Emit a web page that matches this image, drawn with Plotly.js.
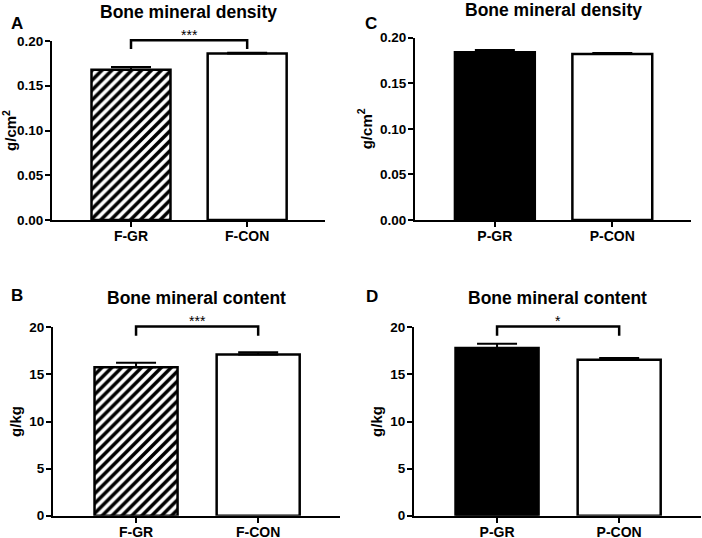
<!DOCTYPE html>
<html>
<head>
<meta charset="utf-8">
<script src="https://cdn.plot.ly/plotly-3.0.1.min.js"></script>
<style>
  body { margin: 0; background: #fff; }
  #chart { width: 702px; height: 538px; }
</style>
</head>
<body>
<div id="chart"></div>
<script>
// Groups and values
const femaleGroups = ['F-GR', 'F-CON'];
const pigGroups = ['P-GR', 'P-CON'];

const densityFemale = [0.168, 0.186];
const densityFemaleErr = [0.003, 0.001];
const contentFemale = [15.75, 17.1];
const contentFemaleErr = [0.5, 0.25];

const densityPig = [0.184, 0.182];
const densityPigErr = [0.0025, 0.0012];
const contentPig = [17.8, 16.55];
const contentPigErr = [0.45, 0.2];

const densityTicks = [0, 0.05, 0.1, 0.15, 0.2];
const contentTicks = [0, 5, 10, 15, 20];

const panelLetters = ['A', 'B', 'C', 'D'];
const panelTitles = ['Bone mineral density', 'Bone mineral content', 'Bone mineral density', 'Bone mineral content'];
const significance = ['***', '***', '', '*'];

const W = 702;
const H = 538;
const FONT = 'Liberation Sans, Arial, sans-serif';

// pixel -> paper helpers
function px(x) { return x / W; }
function py(y) { return 1 - y / H; }

// bar traces for one panel
function panelBars(groups, values, errs, axis, fills) {
  return groups.map((g, i) => ({
    type: 'bar',
    x: [i],
    y: [values[i]],
    width: 0.68,
    xaxis: 'x' + axis,
    yaxis: 'y' + axis,
    showlegend: false,
    hoverinfo: 'skip',
    marker: Object.assign({ line: { color: '#000', width: 2.5 } }, fills[i]),
    error_y: {
      type: 'data',
      symmetric: false,
      array: [errs[i]],
      arrayminus: [0],
      color: '#000',
      thickness: 2,
      width: 20,
    },
  }));
}

const hatched = {
  color: '#fff',
  pattern: { shape: '/', fgcolor: '#000', bgcolor: '#fff', size: 7, solidity: 0.5, fillmode: 'replace' },
};
const white = { color: '#fff' };
const black = { color: '#000' };

var data = []
  .concat(panelBars(femaleGroups, densityFemale, densityFemaleErr, '', [hatched, white]))
  .concat(panelBars(femaleGroups, contentFemale, contentFemaleErr, '2', [hatched, white]))
  .concat(panelBars(pigGroups, densityPig, densityPigErr, '3', [black, white]))
  .concat(panelBars(pigGroups, contentPig, contentPigErr, '4', [black, white]));

// significance brackets sit at the top of each y axis, between the two bars
const axisIds = ['', '2', '3', '4'];
var annotations = [];
var shapes = [];

significance.forEach((sig, i) => {
  if (!sig) return;
  const id = axisIds[i];
  shapes.push({
    type: 'path',
    xref: 'x' + id,
    yref: 'y' + id + ' domain',
    path: 'M 0,0.955 L 0,1.004 L 1,1.004 L 1,0.955',
    line: { color: '#000', width: 2.5 },
  });
  annotations.push({
    text: sig,
    x: 0.5,
    y: 1.0,
    xref: 'x' + id,
    yref: 'y' + id + ' domain',
    yanchor: 'bottom',
    yshift: -4,
    showarrow: false,
    font: { family: FONT, size: 14, color: '#000' },
  });
});

// panel letters and titles
const letterPos = [[9, 12], [9, 295], [371, 12], [372, 296]];
const titleY = [12, 298, 10, 298];
const letterAxis = ['x', 'x2', 'x3', 'x4'];
panelLetters.forEach((l, i) => {
  annotations.push({
    text: '<b>' + l + '</b>',
    x: px(letterPos[i][0]),
    y: py(letterPos[i][1]),
    xref: 'paper',
    yref: 'paper',
    showarrow: false,
    font: { family: FONT, size: 17, color: '#000' },
  });
  annotations.push({
    text: '<b>' + panelTitles[i] + '</b>',
    x: 0.5,
    y: py(titleY[i]),
    xref: letterAxis[i] + ' domain',
    yref: 'paper',
    yanchor: 'middle',
    showarrow: false,
    font: { family: FONT, size: 17.5, color: '#000' },
  });
});

function xAxis(groups, domain, anchor) {
  return {
    domain: domain,
    anchor: anchor,
    range: [-0.68, 1.67],
    tickvals: [0, 1],
    ticktext: groups,
    showline: true,
    linecolor: '#000',
    linewidth: 2,
    ticks: 'outside',
    ticklen: 5,
    tickwidth: 2,
    tickcolor: '#000',
    ticklabelstandoff: -3,
    showgrid: false,
    zeroline: false,
    tickfont: { family: FONT, size: 14, color: '#000', weight: 'bold' },
  };
}

function yAxis(ticks, fmt, title, domain, anchor) {
  return {
    domain: domain,
    anchor: anchor,
    range: [0, ticks[ticks.length - 1]],
    tickvals: ticks,
    tickformat: fmt,
    showline: true,
    linecolor: '#000',
    linewidth: 2,
    ticks: 'outside',
    ticklen: 5,
    tickwidth: 2,
    tickcolor: '#000',
    ticklabelstandoff: -1,
    showgrid: false,
    zeroline: false,
    tickfont: { family: FONT, size: 13.5, color: '#000', weight: 'bold' },
    title: {
      text: title,
      standoff: 4,
      font: { family: FONT, size: 15, color: '#000', weight: 'bold' },
    },
  };
}

const topRow = [py(220), py(41)];
const topRowC = [py(220), py(37.7)];
const bottomRow = [py(515.7), py(327.3)];

var layout = {
  width: W,
  height: H,
  margin: { t: 0, b: 0, l: 0, r: 0 },
  paper_bgcolor: '#fff',
  plot_bgcolor: 'rgba(0,0,0,0)',
  font: { family: FONT, color: '#000' },
  xaxis: xAxis(femaleGroups, [px(52), px(325)], 'y'),
  yaxis: yAxis(densityTicks, '.2f', 'g/cm<sup>2</sup>', topRow, 'x'),
  xaxis2: xAxis(femaleGroups, [px(53), px(340)], 'y2'),
  yaxis2: yAxis(contentTicks, 'd', 'g/kg', bottomRow, 'x2'),
  xaxis3: xAxis(pigGroups, [px(415), px(691)], 'y3'),
  yaxis3: yAxis(densityTicks, '.2f', 'g/cm<sup>2</sup>', topRowC, 'x3'),
  xaxis4: xAxis(pigGroups, [px(414), px(701)], 'y4'),
  yaxis4: yAxis(contentTicks, 'd', 'g/kg', bottomRow, 'x4'),
  annotations: annotations,
  shapes: shapes,
  bargap: 0,
};

var config = { responsive: false, displayModeBar: false, staticPlot: true };

Plotly.newPlot('chart', data, layout, config);
</script>
</body>
</html>
